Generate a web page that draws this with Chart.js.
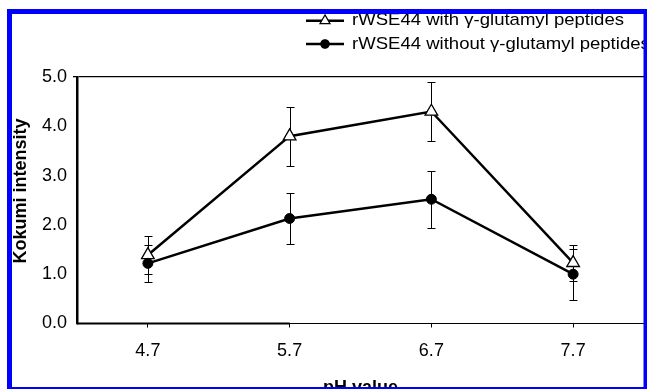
<!DOCTYPE html>
<html><head><meta charset="utf-8">
<script src="https://cdn.jsdelivr.net/npm/chart.js@4.4.0/dist/chart.umd.min.js"></script>
<style>html,body{margin:0;padding:0;background:#fff;}canvas{display:block;}</style>
</head><body>
<canvas id="c" width="647" height="389"></canvas>
<script>
const categories = ['4.7', '5.7', '6.7', '7.7'];
const withGlu = [1.39, 3.80, 4.30, 1.23];
const withGluErr = [0.38, 0.60, 0.60, 0.36];
const withoutGlu = [1.22, 2.13, 2.52, 1.00];
const withoutGluErr = [0.38, 0.52, 0.58, 0.52];
const yTicks = [0, 1, 2, 3, 4, 5];
const seriesNames = ['rWSE44 with \u03b3-glutamyl peptides', 'rWSE44 without \u03b3-glutamyl peptides'];
const xTitle = 'pH value';
const yTitle = 'Kokumi intensity';

const FONT = '"Liberation Sans", Arial, sans-serif';
const errArrays = [withGluErr, withoutGluErr];

const errorBars = {
  id: 'errorBars',
  beforeDatasetsDraw(chart) {
    const {ctx, scales: {x, y}} = chart;
    ctx.save();
    ctx.strokeStyle = '#000';
    ctx.lineWidth = 1;
    chart.data.datasets.forEach((ds, di) => {
      ds.data.forEach((v, i) => {
        const e = errArrays[di][i];
        const px = Math.round(x.getPixelForValue(i)) + 0.5;
        const top = Math.round(y.getPixelForValue(v + e)) + 0.5;
        const bot = Math.round(y.getPixelForValue(v - e)) + 0.5;
        ctx.beginPath();
        ctx.moveTo(px, top); ctx.lineTo(px, bot);
        ctx.moveTo(px - 4, top); ctx.lineTo(px + 4, top);
        ctx.moveTo(px - 4, bot); ctx.lineTo(px + 4, bot);
        ctx.stroke();
      });
    });
    ctx.restore();
  }
};

const decor = {
  id: 'decor',
  afterDraw(chart) {
    const {ctx, chartArea, scales: {x}} = chart;
    ctx.save();
    // heavier first part of the x axis line
    ctx.strokeStyle = '#000';
    ctx.lineWidth = 2;
    ctx.beginPath();
    ctx.moveTo(chartArea.left, chartArea.bottom);
    ctx.lineTo(x.getPixelForValue(1), chartArea.bottom);
    ctx.stroke();

    // axis titles
    ctx.fillStyle = '#000';
    ctx.font = 'bold 18px ' + FONT;
    ctx.textAlign = 'center';
    ctx.textBaseline = 'alphabetic';
    ctx.fillText(xTitle, (chartArea.left + chartArea.right) / 2, 393);
    ctx.save();
    ctx.translate(25.5, 191);
    ctx.rotate(-Math.PI / 2);
    ctx.fillText(yTitle, 0, 0);
    ctx.restore();

    // legend
    const rows = [20.7, 44];
    const base = [25.3, 48.7];
    const ds = chart.data.datasets;
    ctx.font = '17px ' + FONT;
    const w0 = ctx.measureText(seriesNames[0]).width;
    const sx = 272 / w0;
    rows.forEach((ry, i) => {
      ctx.strokeStyle = '#000';
      ctx.lineWidth = 2.5;
      ctx.beginPath();
      ctx.moveTo(306, ry); ctx.lineTo(344, ry);
      ctx.stroke();
      ctx.fillStyle = ds[i].pointBackgroundColor;
      ctx.strokeStyle = '#000';
      ctx.lineWidth = 1.2;
      Chart.helpers.drawPoint(ctx, {
        pointStyle: ds[i].pointStyle,
        radius: i === 0 ? 5.8 : 4.2,
        rotation: 0,
        borderWidth: 1.2
      }, 325, ry);
      ctx.save();
      ctx.translate(352, base[i]);
      ctx.scale(sx, 1);
      ctx.fillStyle = '#000';
      ctx.textAlign = 'left';
      ctx.fillText(seriesNames[i], 0, 0);
      ctx.restore();
    });

    // blue frame
    ctx.strokeStyle = '#0000ff';
    ctx.lineWidth = 5;
    ctx.strokeRect(9.5, 11.5, 636.5, 378);
    ctx.restore();
  }
};

const tickFont = {family: FONT, size: 18};

new Chart(document.getElementById('c').getContext('2d'), {
  type: 'line',
  data: {
    labels: categories,
    datasets: [
      {
        label: seriesNames[0], data: withGlu,
        borderColor: '#000', borderWidth: 2.5, tension: 0, fill: false,
        pointStyle: 'triangle', pointRadius: 7.3,
        pointBackgroundColor: '#fff', pointBorderColor: '#000', pointBorderWidth: 1.3,
        order: 1
      },
      {
        label: seriesNames[1], data: withoutGlu,
        borderColor: '#000', borderWidth: 2.5, tension: 0, fill: false,
        pointStyle: 'circle', pointRadius: 5,
        pointBackgroundColor: '#000', pointBorderColor: '#000', pointBorderWidth: 1,
        order: 0
      }
    ]
  },
  options: {
    responsive: false,
    animation: false,
    devicePixelRatio: 1,
    layout: {autoPadding: false, padding: {top: 77, left: 0, right: 3, bottom: 0}},
    plugins: {legend: {display: false}, tooltip: {enabled: false}},
    scales: {
      x: {
        offset: true,
        grid: {display: true, drawOnChartArea: false, tickLength: 4, color: '#000', lineWidth: 1},
        border: {display: true, color: '#000', width: 1},
        ticks: {color: '#000', font: tickFont, padding: 13, maxRotation: 0},
        afterFit(s) { s.height = 65.5; s.paddingLeft = 0; s.paddingRight = 0; }
      },
      y: {
        min: 0, max: 5,
        afterBuildTicks(s) { s.ticks = yTicks.map(v => ({value: v})); },
        ticks: {color: '#000', font: tickFont, padding: 6, callback: v => Number(v).toFixed(1)},
        grid: {
          color: c => (c.tick && c.tick.value === 5) ? '#000' : 'rgba(0,0,0,0)',
          tickColor: c => (c.tick && c.tick.value === 5) ? '#000' : 'rgba(0,0,0,0)',
          tickLength: 4, lineWidth: 1.3
        },
        border: {display: true, color: '#000', width: 2.5},
        afterFit(s) { s.width = 77; s.paddingTop = 0; s.paddingBottom = 0; }
      }
    }
  },
  plugins: [errorBars, decor]
});
</script>
</body></html>
